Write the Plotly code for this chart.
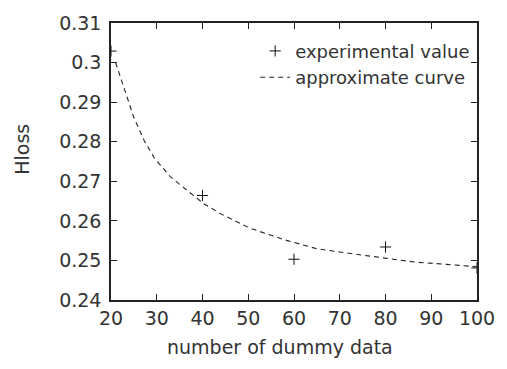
import plotly.graph_objects as go

exp_x = [20, 40, 60, 80, 100]
exp_y = [0.3029, 0.2664, 0.2503, 0.2534, 0.2481]

curve_x = [21, 23, 25, 27.3, 29.4, 33, 36.6, 40.2, 44.1, 50.5, 57.7, 64.8, 72, 79.1, 86.3, 93.4, 100]
curve_y = [0.3000, 0.2929, 0.2861, 0.2802, 0.2760, 0.2711, 0.2677, 0.2644, 0.2617,
           0.2581, 0.2553, 0.2530, 0.2518, 0.2507, 0.2496, 0.2490, 0.2484]

x_ticks = [20, 30, 40, 50, 60, 70, 80, 90, 100]
y_ticks = [0.24, 0.25, 0.26, 0.27, 0.28, 0.29, 0.30, 0.31]

FONT = "DejaVu Sans"
TXT = "#333333"

fig = go.Figure()
fig.add_trace(go.Scatter(
    x=exp_x, y=exp_y, mode="markers", name="experimental value",
    marker=dict(symbol="cross-thin", size=8, line=dict(color="#111", width=1)),
))
fig.add_trace(go.Scatter(
    x=curve_x, y=curve_y, mode="lines", name="approximate curve",
    line=dict(color="#222", width=1.1, dash="5px,4px"),
))

axis_common = dict(
    showgrid=False, zeroline=False, showline=True, linecolor="#222", linewidth=1.5,
    mirror="ticks", ticks="inside", ticklen=6, tickwidth=1, tickcolor="#222",
    tickfont=dict(family=FONT, size=19, color=TXT),
)

fig.update_layout(
    width=507, height=369,
    margin=dict(l=111, r=23, t=23, b=69),
    paper_bgcolor="white", plot_bgcolor="white",
    font=dict(family=FONT, size=19, color=TXT),
    showlegend=True,
    legend=dict(x=0.995, y=0.965, xanchor="right", yanchor="top",
                bgcolor="rgba(0,0,0,0)", borderwidth=0,
                font=dict(family=FONT, size=18, color=TXT),
                itemwidth=30, tracegroupgap=0),
    xaxis=dict(range=[20, 100], tickvals=x_ticks, ticktext=[str(v) for v in x_ticks],
               **axis_common),
    yaxis=dict(range=[0.24, 0.31], tickvals=y_ticks,
               ticktext=["0.24", "0.25", "0.26", "0.27", "0.28", "0.29", "0.3", "0.31"],
               ticklabelstandoff=4,
               **axis_common),
    annotations=[
        dict(text="number of dummy data", xref="paper", yref="paper", x=0.461, y=-0.170,
             xanchor="center", yanchor="middle", showarrow=False,
             font=dict(family=FONT, size=19, color=TXT)),
        dict(text="Hloss", xref="paper", yref="paper", x=-0.244, y=0.545, textangle=-90,
             xanchor="center", yanchor="middle", showarrow=False,
             font=dict(family=FONT, size=19, color=TXT)),
    ],
)

fig.write_html("out.html")
